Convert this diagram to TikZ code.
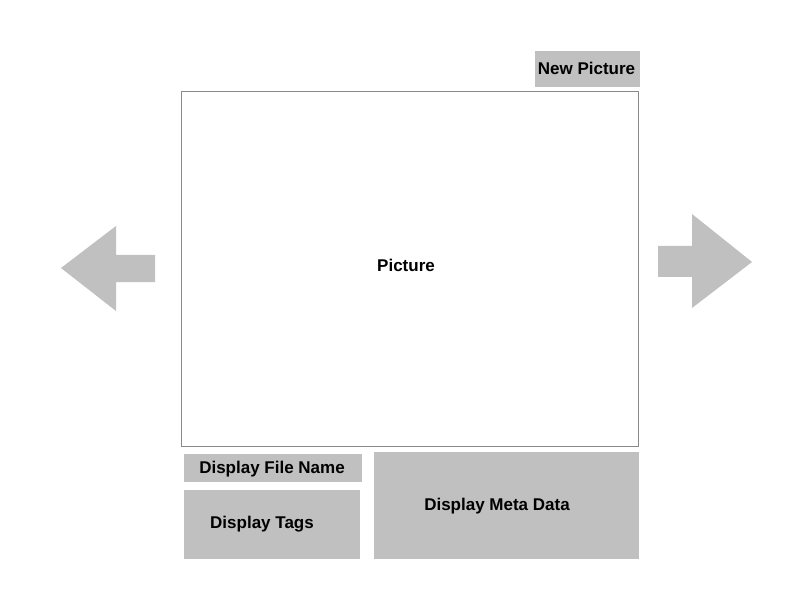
\documentclass[tikz,border=0pt]{standalone}
\usepackage{fontspec}
\setmainfont{Liberation Sans}
\definecolor{boxgray}{HTML}{C0C0C0}
\definecolor{framegray}{HTML}{8A8A8A}
\tikzset{
  graybox/.style={fill=boxgray, draw=none},
  lbl/.style={font=\fontsize{17}{19}\selectfont\bfseries, text=black, inner sep=0pt},
  arrowshape/.style={fill=boxgray, draw=none}
}
\begin{document}
\begin{tikzpicture}[x=1pt,y=-1pt]
\useasboundingbox (0,0) rectangle (792,612);
\fill[white] (0,0) rectangle (792,612);
% picture frame
\draw[framegray, line width=1pt] (181,92) rectangle (638,446);
\node[lbl] (pic) at (406,265) {Picture};
% new picture
\fill[graybox] (535,51) rectangle (640,87);
\node[lbl] (newpic) at (586.5,68.5) {New Picture};
% file name
\fill[graybox] (184,454) rectangle (362,482);
\node[lbl] (fname) at (272,469.5) {Display File Name};
% tags
\fill[graybox] (184,490) rectangle (360,559);
\node[lbl] (tags) at (262,524.5) {Display Tags};
% meta
\fill[graybox] (374,452) rectangle (639,559);
\node[lbl] (meta) at (497,506.5) {Display Meta Data};
% left arrow
\fill[arrowshape] (61,268) -- (116,226) -- (116,255) -- (155,255) -- (155,282) -- (116,282) -- (116,311) -- cycle;
% right arrow
\fill[arrowshape] (752,262) -- (692,214) -- (692,246) -- (658,246) -- (658,277) -- (692,277) -- (692,308) -- cycle;
\end{tikzpicture}
\end{document}
